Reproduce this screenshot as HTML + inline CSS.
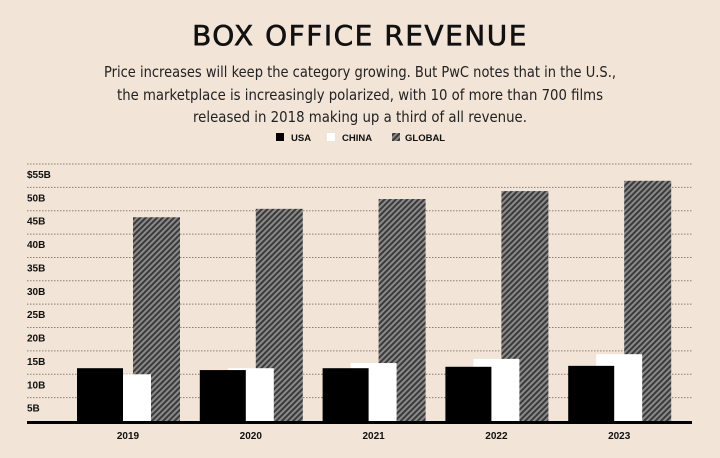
<!DOCTYPE html>
<html><head><meta charset="utf-8"><style>
body{margin:0;background:#f2e4d6;}
#c{position:relative;width:720px;height:458px;background:#f2e4d6;overflow:hidden;font-family:"Liberation Sans","DejaVu Sans",sans-serif;}
</style></head><body>
<div id="c">
<svg id="s" width="720" height="458" xmlns="http://www.w3.org/2000/svg">
<defs>
<pattern id="hatch" patternUnits="userSpaceOnUse" width="4" height="4" patternTransform="rotate(45)">
<rect width="4" height="4" fill="#8a8a8a"/><rect width="2" height="4" fill="#3a3a3a"/>
</pattern>
</defs>
<text x="360" y="45" text-anchor="middle" font-family="'DejaVu Sans',sans-serif" font-size="28" letter-spacing="1.5" fill="#111" stroke="#111" stroke-width="0.6">BOX OFFICE REVENUE</text>
<g font-size="15" fill="#222" text-anchor="middle" font-family="'DejaVu Sans',sans-serif">
<text x="360" y="77" textLength="512" lengthAdjust="spacingAndGlyphs">Price increases will keep the category growing. But PwC notes that in the U.S.,</text>
<text x="360" y="100" textLength="486" lengthAdjust="spacingAndGlyphs">the marketplace is increasingly polarized, with 10 of more than 700 films</text>
<text x="360" y="122" textLength="334" lengthAdjust="spacingAndGlyphs">released in 2018 making up a third of all revenue.</text>
</g>
<g font-size="9.5" font-weight="bold" fill="#111">
<g><rect x="276" y="133" width="8" height="8" fill="#000"/><text x="291" y="141">USA</text></g>
<g><rect x="327" y="133" width="8" height="8" fill="#fff"/><text x="342" y="141">CHINA</text></g>
<g><rect x="392" y="133" width="8" height="8" fill="url(#hatch)"/><text x="405" y="141">GLOBAL</text></g>
</g>
<g id="grid"></g>
<g id="bars"></g>
<g id="xlab"></g>
</svg>
</div>
<script>
const years = ["2019","2020","2021","2022","2023"];
const usa = [11.3, 10.9, 11.3, 11.6, 11.8];
const china = [10.0, 11.3, 12.4, 13.3, 14.3];
const global = [43.6, 45.4, 47.5, 49.2, 51.4];
const yTicks = [5,10,15,20,25,30,35,40,45,50,55];
const yTickLabels = ["5B","10B","15B","20B","25B","30B","35B","40B","45B","50B","$55B"];

const NS = "http://www.w3.org/2000/svg";
const y0 = 421, yPer = 4.673;
const y = v => y0 - v * yPer;
const xg = i => 77 + i * 122.8;
const bw = 46;
function mk(tag, attrs, parent){const e=document.createElementNS(NS,tag);for(const k in attrs)e.setAttribute(k,attrs[k]);parent.appendChild(e);return e;}
const grid=document.getElementById('grid'), bars=document.getElementById('bars'), xl=document.getElementById('xlab');
yTicks.forEach((t,i)=>{
  const l=mk('line',{x1:27,x2:692,y1:y(t),y2:y(t),stroke:'#8a7f75','stroke-width':1,'stroke-dasharray':'1.5,1.5'},grid);
  
  
  const tx=mk('text',{x:27,y:y(t)+14,'font-size':10,'font-weight':'bold',fill:'#111'},grid);
  tx.textContent=yTickLabels[i];
  
  
});
years.forEach((yr,i)=>{
  const x=xg(i);
  const g=mk('rect',{x:x+56,y:y(global[i]),width:bw+1,height:y0-y(global[i]),fill:'url(#hatch)'},bars);
  
  
  const c=mk('rect',{x:x+28,y:y(china[i]),width:bw,height:y0-y(china[i]),fill:'#fff'},bars);
  
  
  const u=mk('rect',{x:x,y:y(usa[i]),width:bw,height:y0-y(usa[i]),fill:'#000'},bars);
  
  
  const t=mk('text',{x:x+51,y:439,'font-size':10,'font-weight':'bold','text-anchor':'middle',fill:'#111'},xl);
  t.textContent=yr;
  
  
});
const base=mk('rect',{x:27,y:421,width:665,height:3,fill:'#000'},bars);


</script>
</body></html>
